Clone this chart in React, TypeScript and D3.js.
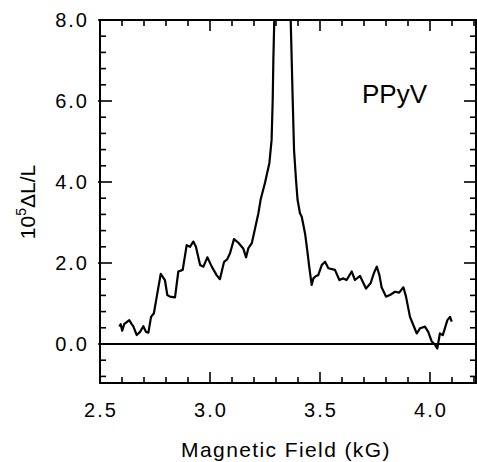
import React from "react";
import * as d3 from "d3";

const fieldKG = [2.588, 2.594, 2.601, 2.610, 2.633, 2.644, 2.651, 2.667, 2.682, 2.697,
  2.709, 2.720, 2.732, 2.745, 2.758, 2.776, 2.795, 2.806, 2.818, 2.841,
  2.856, 2.876, 2.894, 2.909, 2.924, 2.936, 2.955, 2.970, 2.988, 3.008,
  3.030, 3.045, 3.064, 3.078, 3.091, 3.109, 3.129, 3.151, 3.164, 3.174,
  3.190, 3.205, 3.220, 3.230, 3.250, 3.270, 3.280, 3.285, 3.288, 3.292,
  3.300, 3.330, 3.360, 3.367, 3.376, 3.382, 3.391, 3.398, 3.409, 3.417,
  3.432, 3.442, 3.451, 3.462, 3.470, 3.482, 3.492, 3.508, 3.523, 3.538,
  3.568, 3.588, 3.606, 3.621, 3.644, 3.659, 3.682, 3.709, 3.730, 3.745,
  3.758, 3.770, 3.780, 3.800, 3.818, 3.841, 3.860, 3.879, 3.891, 3.909,
  3.924, 3.940, 3.955, 3.977, 3.992, 4.008, 4.023, 4.033, 4.045, 4.058,
  4.068, 4.079, 4.091, 4.099];

const signal = [0.43, 0.49, 0.33, 0.49, 0.59, 0.49, 0.44, 0.22, 0.30, 0.44,
  0.30, 0.28, 0.67, 0.76, 1.17, 1.73, 1.58, 1.21, 1.17, 1.15,
  1.79, 1.83, 2.44, 2.40, 2.53, 2.40, 1.95, 1.91, 2.14, 1.91,
  1.70, 1.60, 2.03, 2.09, 2.24, 2.59, 2.50, 2.36, 2.14, 2.36,
  2.49, 2.86, 3.23, 3.56, 3.98, 4.47, 5.04, 6.02, 7.01, 7.95,
  9.0, 10.0, 9.0, 7.96, 6.02, 4.79, 4.05, 3.56, 3.23, 3.14,
  2.73, 2.32, 1.91, 1.46, 1.62, 1.68, 1.70, 1.95, 2.03, 1.87,
  1.83, 1.58, 1.62, 1.58, 1.79, 1.58, 1.68, 1.37, 1.50, 1.75,
  1.91, 1.70, 1.40, 1.17, 1.21, 1.29, 1.27, 1.40, 1.17, 0.67,
  0.47, 0.26, 0.39, 0.43, 0.30, 0.06, -0.02, -0.11, 0.26, 0.22,
  0.39, 0.59, 0.67, 0.55];

const xMajorTicks = [2.5, 3.0, 3.5, 4.0];
const xMinorTicks = [2.6, 2.7, 2.8, 2.9, 3.1, 3.2, 3.3, 3.4, 3.6, 3.7, 3.8, 3.9, 4.1, 4.2];
const yMajorTicks = [0, 2, 4, 6, 8];
const yMinorTicks = [-0.8, -0.4, 0.4, 0.8, 1.2, 1.6, 2.4, 2.8, 3.2, 3.6, 4.4, 4.8, 5.2, 5.6, 6.4, 6.8, 7.2, 7.6];
const sampleLabel = "PPyV";
const xTitle = "Magnetic Field (kG)";

const W = 477, H = 462;
const L = 100, R = 476, T = 20, B = 383;

export default function App() {
  const x = d3.scaleLinear().domain([2.5, 2.5 + (R - L) / 220]).range([L, R]);
  const y = d3.scaleLinear().domain([(344 - B) / 40.5, 8]).range([B, T]);
  const pts = fieldKG.map((f, i) => [f, signal[i]] as [number, number]);
  const line = d3.line<[number, number]>().x(d => x(d[0])).y(d => y(d[1]));
  const font = "'Liberation Sans', Arial, Helvetica, sans-serif";
  const sw = 2.2;
  return (
    <svg width={W} height={H} style={{ position: "absolute", left: 0, top: 0, background: "#fff" }}>
      <defs>
        <clipPath id="plot"><rect x={L} y={T} width={R - L} height={B - T} /></clipPath>
      </defs>
      <rect x={0} y={0} width={W} height={H} fill="#fff" />
      <g stroke="#000" strokeWidth={1.6}>
        {xMajorTicks.map(t => (
          <g key={"xM" + t}>
            <line x1={x(t)} x2={x(t)} y1={B} y2={B - 11} />
            <line x1={x(t)} x2={x(t)} y1={T} y2={T + 11} />
          </g>
        ))}
        {xMinorTicks.map(t => (
          <g key={"xm" + t}>
            <line x1={x(t)} x2={x(t)} y1={B} y2={B - 6} />
            <line x1={x(t)} x2={x(t)} y1={T} y2={T + 6} />
          </g>
        ))}
        {yMajorTicks.map(t => (
          <g key={"yM" + t}>
            <line x1={L - 2} x2={L + 12} y1={y(t)} y2={y(t)} />
            <line x1={R} x2={R - 12} y1={y(t)} y2={y(t)} />
          </g>
        ))}
        {yMinorTicks.map(t => (
          <g key={"ym" + t}>
            <line x1={L} x2={L + 6} y1={y(t)} y2={y(t)} />
            <line x1={R} x2={R - 6} y1={y(t)} y2={y(t)} />
          </g>
        ))}
      </g>
      <line x1={L} x2={R} y1={y(0)} y2={y(0)} stroke="#000" strokeWidth={2.2} />
      <rect x={L} y={T} width={R - L} height={B - T} fill="none" stroke="#000" strokeWidth={2} />
      <path d={line(pts) || ""} fill="none" stroke="#000" strokeWidth={sw} strokeLinejoin="round" clipPath="url(#plot)" />
      <g fontFamily={font} fontSize={20} fill="#000" letterSpacing={2}>
        {yMajorTicks.map(t => (
          <text key={"yl" + t} x={L - 11} y={y(t)} dy="0.36em" textAnchor="end">{d3.format(".1f")(t)}</text>
        ))}
        {xMajorTicks.map(t => (
          <text key={"xl" + t} x={x(t) + 1} y={417} textAnchor="middle">{d3.format(".1f")(t)}</text>
        ))}
      </g>
      <text x={286} y={457} textAnchor="middle" fontFamily={font} fontSize={21} letterSpacing={1.4}>{xTitle}</text>
      <text transform="translate(35,202) rotate(-90)" textAnchor="middle" fontFamily={font} fontSize={21}>
        10<tspan fontSize={14} dy={-9}>5</tspan><tspan dy={9}>ΔL/L</tspan>
      </text>
      <text x={362} y={103} fontFamily={font} fontSize={26}>{sampleLabel}</text>
    </svg>
  );
}
